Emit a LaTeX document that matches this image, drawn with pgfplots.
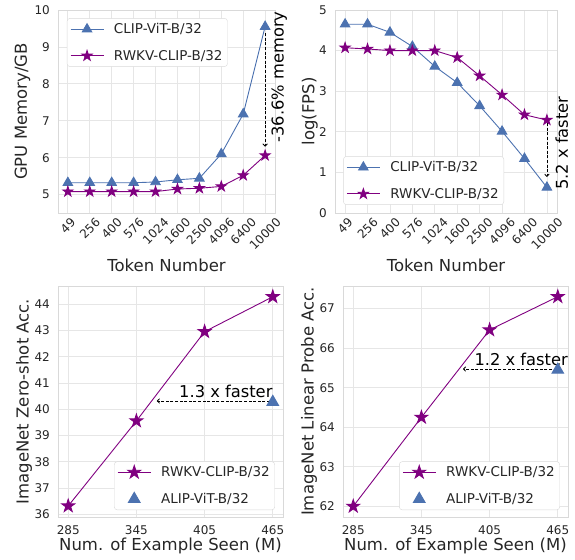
\documentclass[border=0pt]{standalone}
\usepackage{fontspec}
\setmainfont{DejaVu Sans}
\usepackage{pgfplots}
\pgfplotsset{compat=1.18}
\usetikzlibrary{arrows.meta}

\definecolor{sbblue}{HTML}{4C72B0}
\definecolor{mplpurple}{HTML}{800080}
\definecolor{gridgray}{HTML}{E6E6E6}
\definecolor{edgegray}{HTML}{D9D9D9}
\definecolor{textgray}{HTML}{262626}

% filled five-pointed star, like matplotlib's '*'
\pgfdeclareplotmark{pstar}{%
  \pgfpathmoveto{\pgfpointpolar{90}{\pgfplotmarksize}}%
  \pgfpathlineto{\pgfpointpolar{126}{0.382\pgfplotmarksize}}%
  \pgfpathlineto{\pgfpointpolar{162}{\pgfplotmarksize}}%
  \pgfpathlineto{\pgfpointpolar{198}{0.382\pgfplotmarksize}}%
  \pgfpathlineto{\pgfpointpolar{234}{\pgfplotmarksize}}%
  \pgfpathlineto{\pgfpointpolar{270}{0.382\pgfplotmarksize}}%
  \pgfpathlineto{\pgfpointpolar{306}{\pgfplotmarksize}}%
  \pgfpathlineto{\pgfpointpolar{342}{0.382\pgfplotmarksize}}%
  \pgfpathlineto{\pgfpointpolar{18}{\pgfplotmarksize}}%
  \pgfpathlineto{\pgfpointpolar{54}{0.382\pgfplotmarksize}}%
  \pgfpathclose
  \pgfusepathqfillstroke
}

\tikzset{
  note/.style={font=\fontsize{16.3}{19}\selectfont, text=black},
  gap/.style={black, line width=0.8pt, dash pattern=on 3pt off 1.6pt,
    -{To[length=3pt, width=5pt]}},
}

\pgfplotsset{
  sb/.style={
    scale only axis,
    anchor=south west,
    clip=false,
    axis line style={edgegray, line width=0.8pt},
    grid=major,
    grid style={gridgray, line width=0.8pt},
    major tick length=0pt,
    tick label style={font=\fontsize{12}{14}\selectfont, text=textgray},
    /pgf/number format/assume math mode=true,
    label style={font=\fontsize{16.5}{19}\selectfont, text=textgray},
    yticklabel style={inner sep=0pt, anchor=east, xshift=-8pt},
    legend cell align=left,
    legend style={draw=edgegray, rounded corners=3pt, text=textgray,
      font=\fontsize{13.5}{16}\selectfont, inner xsep=3pt, inner ysep=3pt,
      row sep=11pt, column sep=8pt, nodes={inner sep=2pt}},
  },
  tok/.style={
    xmin=-0.45, xmax=9.45,
    xtick={0,...,9},
    xticklabels={\rotatebox{45}{49},\rotatebox{45}{256},\rotatebox{45}{400},
      \rotatebox{45}{576},\rotatebox{45}{1024},\rotatebox{45}{1600},
      \rotatebox{45}{2500},\rotatebox{45}{4096},\rotatebox{45}{6400},
      \rotatebox{45}{10000}},
    xticklabel style={inner sep=0pt, anchor=north, yshift=-4pt},
    xlabel={Token Number},
    xlabel style={at={(axis description cs:0.5,-0.289)}, anchor=base},
  },
  seen/.style={
    xmin=276, xmax=474,
    xtick={285,345,405,465},
    xticklabel style={inner sep=0pt, anchor=north, yshift=-8.5pt},
    xlabel={Num. of Example Seen (M)},
    xlabel style={at={(axis description cs:0.5,-0.147)}, anchor=base},
  },
  % line of 33pt with the mark in its middle
  wide legend/.style={
    legend image code/.code={\draw[mark repeat=2,mark phase=2,##1]
      plot coordinates {(0pt,0pt) (16.5pt,0pt) (33pt,0pt)};},
  },
  vit/.style={sbblue, line width=0.9pt, mark=triangle*, mark size=5.5pt,
    mark options={solid, fill=sbblue}, wide legend},
  rwkv/.style={mplpurple, line width=0.9pt, mark=pstar, mark size=5.3pt,
    mark options={solid, fill=mplpurple}, wide legend},
}

\begin{document}
\begin{tikzpicture}
\useasboundingbox (0,0) rectangle (575pt,559pt);

% GPU memory
\begin{axis}[sb, tok,
  at={(58pt,346pt)}, width=217pt, height=203pt,
  ymin=4.5, ymax=10, ytick={5,...,10},
  ylabel={GPU Memory/GB},
  ylabel style={at={(axis description cs:-0.164,0.5)}, anchor=center},
  legend style={at={(0.041,0.96)}, anchor=north west},
]
\addplot[vit] coordinates {(0,5.32) (1,5.32) (2,5.32) (3,5.32) (4,5.34)
  (5,5.40) (6,5.44) (7,6.10) (8,7.18) (9,9.55)};
\addplot[rwkv] coordinates {(0,5.08) (1,5.08) (2,5.08) (3,5.08) (4,5.08)
  (5,5.15) (6,5.17) (7,5.22) (8,5.52) (9,6.06)};
\legend{CLIP-ViT-B/32, RWKV-CLIP-B/32}
\draw[gap] (axis cs:9,9.37) -- (axis cs:9,6.30);
\node[note, rotate=90] at (axis cs:9.64,8.19) {-36.6\% memory};
\end{axis}

% FPS
\begin{axis}[sb, tok,
  at={(335pt,346pt)}, width=222pt, height=203pt,
  ymin=0, ymax=5, ytick={0,...,5},
  ylabel={log(FPS)},
  ylabel style={at={(axis description cs:-0.113,0.5)}, anchor=center},
  legend style={at={(0.037,0.04)}, anchor=south west},
]
\addplot[vit] coordinates {(0,4.65) (1,4.65) (2,4.45) (3,4.10) (4,3.61)
  (5,3.21) (6,2.64) (7,2.01) (8,1.34) (9,0.63)};
\addplot[rwkv] coordinates {(0,4.07) (1,4.04) (2,4.00) (3,4.00) (4,4.00)
  (5,3.83) (6,3.38) (7,2.91) (8,2.42) (9,2.29)};
\legend{CLIP-ViT-B/32, RWKV-CLIP-B/32}
\draw[gap] (axis cs:9,2.21) -- (axis cs:9,0.89);
\node[note, rotate=90] at (axis cs:9.66,1.72) {5.2 x faster};
\end{axis}

% zero-shot
\begin{axis}[sb, seen,
  at={(58pt,42pt)}, width=225pt, height=231pt,
  ymin=35.9, ymax=44.7, ytick={36,...,44},
  ylabel={ImageNet Zero-shot Acc.},
  ylabel style={at={(axis description cs:-0.151,0.5)}, anchor=center},
  legend style={at={(0.964,0.03)}, anchor=south east},
]
\addplot[rwkv, mark size=6.8pt] coordinates {(285,36.32) (345,39.56)
  (405,42.96) (465,44.29)};
\addplot[vit, only marks, mark size=6.7pt] coordinates {(465,40.28)};
\legend{RWKV-CLIP-B/32, ALIP-ViT-B/32}
\draw[gap] (axis cs:462.6,40.32) -- (axis cs:363,40.32);
\node[note] at (axis cs:423.7,40.70) {1.3 x faster};
\end{axis}

% linear probe
\begin{axis}[sb, seen,
  at={(343pt,42pt)}, width=225pt, height=231pt,
  ymin=61.73, ymax=67.57, ytick={62,...,67},
  ylabel={ImageNet Linear Probe Acc.},
  ylabel style={at={(axis description cs:-0.151,0.5)}, anchor=center},
  legend style={at={(0.964,0.03)}, anchor=south east},
]
\addplot[rwkv, mark size=6.8pt] coordinates {(285,62.00) (345,64.25)
  (405,66.46) (465,67.30)};
\addplot[vit, only marks, mark size=6.7pt] coordinates {(465,65.45)};
\legend{RWKV-CLIP-B/32, ALIP-ViT-B/32}
\draw[gap] (axis cs:464,65.47) -- (axis cs:381.6,65.47);
\node[note] at (axis cs:432.8,65.72) {1.2 x faster};
\end{axis}
\end{tikzpicture}
\end{document}
